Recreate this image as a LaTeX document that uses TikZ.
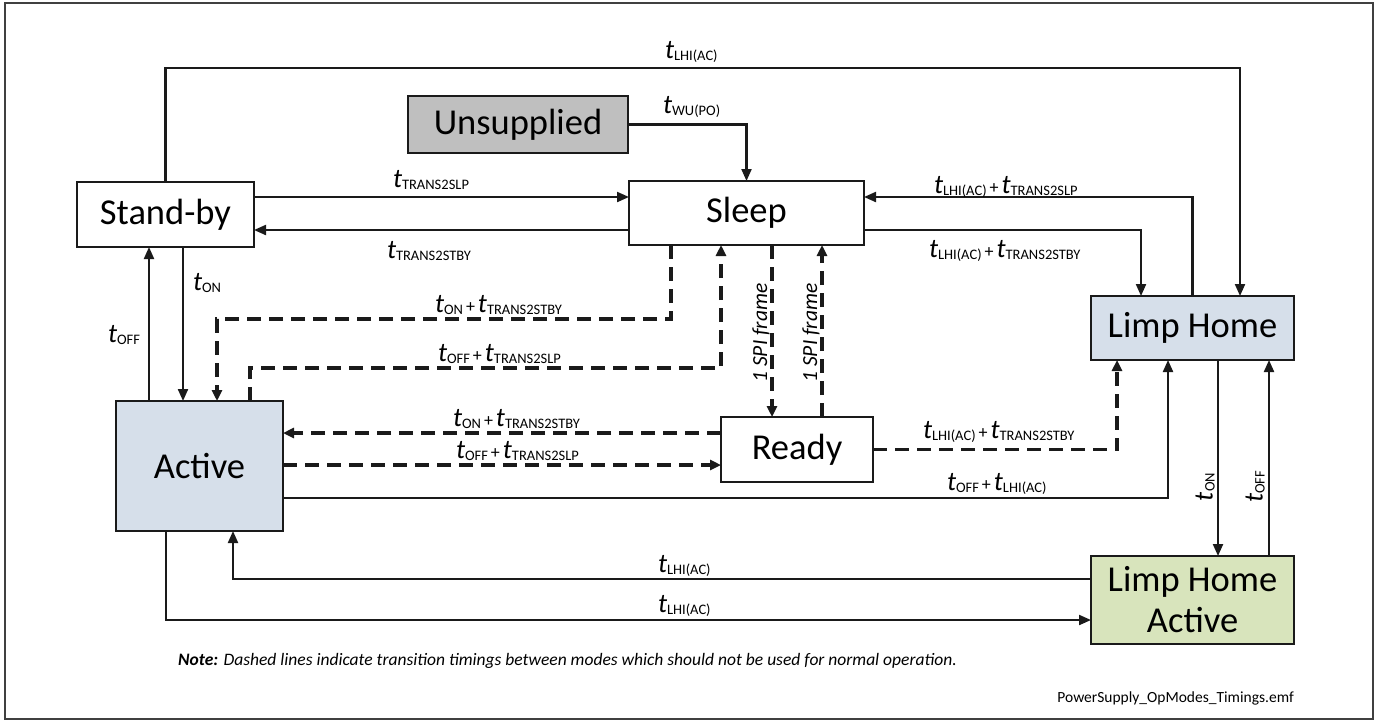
\documentclass[tikz,border=0pt]{standalone}
\usepackage{fontspec}
\setmainfont{Carlito}
\usetikzlibrary{arrows.meta}
\definecolor{unsupgray}{HTML}{BFBFBF}
\definecolor{actblue}{HTML}{D6DFEA}
\definecolor{lhagreen}{HTML}{D8E4BC}
\definecolor{linec}{HTML}{1A1A1A}
\newcommand{\tsym}[1]{{\fontsize{27}{27}\selectfont\itshape t}\raisebox{-2pt}{\fontsize{14.5}{14.5}\selectfont #1}}
\newcommand{\tplus}{{\fontsize{18}{18}\selectfont\,+\,}}
\tikzset{
  box/.style={draw=linec, line width=2.1pt, inner sep=0pt, outer sep=0pt,
    font=\fontsize{36.5}{41}\selectfont, align=center},
  conn/.style={line width=2.1pt, draw=linec, -{Triangle[length=12pt,width=10pt]}},
  dconn/.style={line width=3.2pt, draw=linec, dash pattern=on 14pt off 8pt,
    -{Triangle[length=11pt,width=10pt]}},
  lbl/.style={inner sep=0pt, outer sep=0pt, anchor=base west},
  rlbl/.style={inner sep=0pt, outer sep=0pt, rotate=90},
}
\begin{document}
\begin{tikzpicture}[x=1pt,y=-1pt]
\useasboundingbox (0,0) rectangle (1380,724);
\fill[white] (0,0) rectangle (1380,724);
\draw[line width=1.2pt, black!75] (5,3) rectangle (1373,719);

% nodes
\node[box, minimum width=177pt, minimum height=65pt] (standby) at (165.5,214.5) {Stand-by};
\node[box, fill=unsupgray, minimum width=220pt, minimum height=57pt] (unsup) at (518,124.5) {Unsupplied};
\node[box, minimum width=235pt, minimum height=64pt] (sleep) at (746.5,213) {Sleep};
\node[box, fill=actblue, minimum width=203pt, minimum height=64pt] (limp) at (1192.5,328) {Limp Home};
\node[box, fill=lhagreen, minimum width=203pt, minimum height=88pt] (lha) at (1192.5,600) {Limp Home\\Active};
\node[box, fill=actblue, minimum width=167pt, minimum height=130pt] (active) at (199.5,466) {Active};
\node[box, minimum width=152pt, minimum height=65pt] (ready) at (797,449.5) {Ready};

% solid connectors
\draw[conn] (standby.north) -- (standby.north |- 0,68) -| (limp.north -| 1240,0);
\draw[conn] (unsup.east) -| (sleep.north);
\draw[conn] (standby.east |- 0,197) -- (sleep.west |- 0,197);
\draw[conn] (sleep.west |- 0,230) -- (standby.east |- 0,230);
\draw[conn] (limp.north) |- (sleep.east |- 0,197);
\draw[conn] (sleep.east |- 0,230) -| (limp.north -| 1141,0);
\draw[conn] (standby.south -| 183,0) -- (active.north -| 183,0);
\draw[conn] (active.north -| 149,0) -- (standby.south -| 149,0);
\draw[conn] (active.east |- 0,498) -| (limp.south -| 1168,0);
\draw[conn] (limp.south -| 1218,0) -- (lha.north -| 1218,0);
\draw[conn] (lha.north -| 1269,0) -- (limp.south -| 1269,0);
\draw[conn] (lha.west |- 0,579) -| (active.south -| 233,0);
\draw[conn] (active.south -| 166,0) |- (lha.west |- 0,620);

% dashed connectors
\draw[dconn] (sleep.south -| 671,0) -- (671,319) -| (active.north -| 217,0);
\draw[dconn] (active.north -| 250,0) -- (250,368) -| (sleep.south -| 721,0);
\draw[dconn] (sleep.south -| 772,0) -- (ready.north -| 772,0);
\draw[dconn] (ready.north -| 822,0) -- (sleep.south -| 822,0);
\draw[dconn] (ready.west |- 0,433) -- (active.east |- 0,433);
\draw[dconn] (active.east |- 0,465) -- (ready.west |- 0,465);
\draw[dconn] (ready.east) -| (limp.south -| 1117,0);

% labels
\node[lbl] (l1) at (665,58) {\tsym{LHI(AC)}};
\node[lbl] (l2) at (663,113) {\tsym{WU(PO)}};
\node[lbl] (l3) at (393,187) {\tsym{TRANS2SLP}};
\node[lbl] (l4) at (387,258) {\tsym{TRANS2STBY}};
\node[lbl] (l5) at (934,193) {\tsym{LHI(AC)}\tplus\tsym{TRANS2SLP}};
\node[lbl] (l6) at (929,257) {\tsym{LHI(AC)}\tplus\tsym{TRANS2STBY}};
\node[lbl] (l7) at (193,290) {\tsym{ON}};
\node[lbl] (l8) at (108,342) {\tsym{OFF}};
\node[lbl] (l9) at (435,312) {\tsym{ON}\tplus\tsym{TRANS2STBY}};
\node[lbl] (l10) at (438,361) {\tsym{OFF}\tplus\tsym{TRANS2SLP}};
\node[lbl] (l11) at (453,426) {\tsym{ON}\tplus\tsym{TRANS2STBY}};
\node[lbl] (l12) at (456,458) {\tsym{OFF}\tplus\tsym{TRANS2SLP}};
\node[lbl] (l13) at (923,438) {\tsym{LHI(AC)}\tplus\tsym{TRANS2STBY}};
\node[lbl] (l14) at (947,490) {\tsym{OFF}\tplus\tsym{LHI(AC)}};
\node[lbl] (l15) at (658,572) {\tsym{LHI(AC)}};
\node[lbl] (l16) at (658,612) {\tsym{LHI(AC)}};
\node[rlbl, font=\fontsize{21.5}{21.5}\selectfont\itshape] (s1) at (761,333) {1 SPI frame};
\node[rlbl, font=\fontsize{21.5}{21.5}\selectfont\itshape] (s2) at (811,333) {1 SPI frame};
\node[rlbl] (r1) at (1205,487) {\tsym{ON}};
\node[rlbl] (r2) at (1255,487) {\tsym{OFF}};

\node[inner sep=0pt, anchor=west, font=\fontsize{17.5}{17.5}\selectfont\itshape] (note) at (178,661)
  {\textbf{Note:} Dashed lines indicate transition timings between modes which should not be used for normal operation.};
\node[inner sep=0pt, anchor=east, font=\fontsize{15.5}{15.5}\selectfont] (fname) at (1294,698)
  {PowerSupply\_OpModes\_Timings.emf};
\end{tikzpicture}
\end{document}
